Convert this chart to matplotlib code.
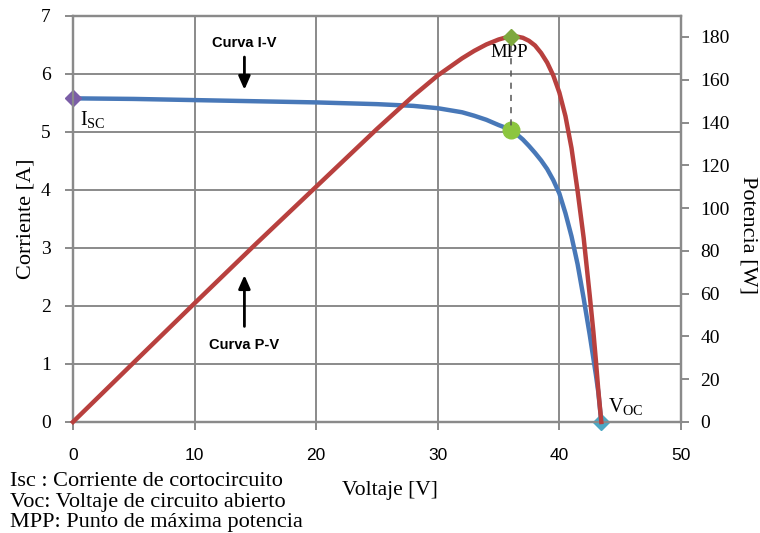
import matplotlib
matplotlib.use("Agg")
import matplotlib.pyplot as plt

# ---- data ----
voltage = [0, 5, 10, 15, 20, 25, 28, 30, 32, 33, 34, 35, 35.5, 36, 36.5, 37, 37.5, 38,
           38.5, 39, 39.5, 40, 40.5, 41, 41.5, 42, 42.5, 43, 43.2, 43.45]
current = [5.58, 5.57, 5.55, 5.53, 5.51, 5.48, 5.45, 5.41, 5.34, 5.28, 5.21, 5.12, 5.08,
           5.03, 4.96, 4.87, 4.76, 4.64, 4.51, 4.36, 4.17, 3.94, 3.60, 3.20, 2.72, 2.13,
           1.50, 0.82, 0.52, 0.0]
power_v = [0, 5, 10, 15, 20, 25, 28, 30, 32, 33, 34, 35, 35.5, 36, 36.5, 37, 37.5, 38,
           38.5, 39, 39.5, 40, 40.5, 41, 41.5, 42, 42.5, 42.8, 43, 43.2, 43.45]
power = [0, 27.8, 55.5, 83, 110, 137, 152.5, 162, 170, 173.5, 176.5, 178.8, 179.6,
         180, 180.2, 179.6, 178.2, 176, 172.5, 168, 162, 154, 143, 128, 108, 86,
         59, 42, 29, 15, 0]

isc = (0, 5.58)
mpp_v, mpp_i, mpp_p = 36, 5.03, 180
voc = 43.45

x_ticks = [0, 10, 20, 30, 40, 50]
y_left_ticks = [0, 1, 2, 3, 4, 5, 6, 7]
y_right_ticks = [0, 20, 40, 60, 80, 100, 120, 140, 160, 180]

SERIF = "Liberation Serif"
SANS = "Liberation Sans"
plt.rcParams["mathtext.fontset"] = "custom"
plt.rcParams["mathtext.rm"] = SERIF
plt.rcParams["mathtext.it"] = SERIF + ":italic"

GRID = "#8a8a8a"
BLUE = "#4878B8"
RED = "#B8403E"

fig = plt.figure(figsize=(7.6, 5.33), dpi=100)
ax = fig.add_axes([0.096, 0.2083, 0.80, 0.7617])
ax2 = ax.twinx()

ax.set_xlim(0, 50)
ax.set_ylim(0, 7)
ax2.set_ylim(0, 189.8)

ax.set_xticks(x_ticks)
ax.set_yticks(y_left_ticks)
ax2.set_yticks(y_right_ticks)
ax.grid(True, color=GRID, linewidth=1.4)
ax.set_axisbelow(True)

for a in (ax, ax2):
    for s in a.spines.values():
        s.set_color(GRID)
        s.set_linewidth(1.6)

ax.tick_params(axis="y", colors=GRID, length=6, width=1.4, labelcolor="black",
               labelsize=14, pad=10)
ax.tick_params(axis="x", colors=GRID, length=6, width=1.4, labelcolor="black",
               labelsize=12.5, pad=13)
ax2.tick_params(axis="y", colors=GRID, length=6, width=1.4, labelcolor="black",
                labelsize=14, pad=8)
for lab in ax.get_yticklabels() + ax2.get_yticklabels():
    lab.set_family(SERIF)
for lab in ax.get_xticklabels():
    lab.set_family(SANS)

# curves
ax.plot(voltage, current, color=BLUE, linewidth=3.2, zorder=3, clip_on=False,
        solid_joinstyle="round")
ax2.plot(power_v, power, color=RED, linewidth=3.2, zorder=3, clip_on=False,
         solid_joinstyle="round")

# dashed link MPP
ax2.plot([mpp_v, mpp_v], [mpp_p - 4, 136], color="#555555", linestyle=(0, (4, 4)),
         linewidth=1.1, zorder=2)

# markers
ax.plot([isc[0]], [isc[1]], marker="D", color="#7B5EA7", markersize=8, zorder=5,
        clip_on=False)
ax.plot([mpp_v], [mpp_i], marker="o", color="#8CC63F", markersize=12, zorder=5,
        clip_on=False)
ax2.plot([mpp_v], [mpp_p], marker="D", color="#7EA83E", markersize=8, zorder=5,
         clip_on=False)
ax.plot([voc], [0], marker="D", color="#4BA8C4", markersize=8, zorder=5, clip_on=False)

# point labels
ax.text(0.6, 5.22, r"I$_{\mathrm{SC}}$", fontsize=14.5, family=SERIF, va="center", ha="left")
ax.text(35.9, 6.37, "MPP", fontsize=13.5, family=SERIF, va="center", ha="center")
ax.text(44.0, 0.27, r"V$_{\mathrm{OC}}$", fontsize=14.5, family=SERIF, va="center", ha="left")

# curve annotations
ax.text(14.1, 6.53, "Curva I-V", fontsize=10.5, fontweight="bold", family=SANS,
        ha="center", va="center")
ax.annotate("", xy=(14.1, 5.68), xytext=(14.1, 6.34),
            arrowprops=dict(arrowstyle="-|>,head_length=0.8,head_width=0.35",
                            color="black", lw=2))
ax.text(14.1, 1.33, "Curva P-V", fontsize=10.5, fontweight="bold", family=SANS,
        ha="center", va="center")
ax.annotate("", xy=(14.1, 2.58), xytext=(14.1, 1.6),
            arrowprops=dict(arrowstyle="-|>,head_length=0.8,head_width=0.35",
                            color="black", lw=2))

# axis labels
fig.text(0.034, 0.59, "Corriente [A]", rotation=90, fontsize=16, family=SERIF,
         ha="center", va="center")
fig.text(0.984, 0.559, "Potencia [W]", rotation=270, fontsize=16, family=SERIF,
         ha="center", va="center")
fig.text(0.513, 0.079, "Voltaje [V]", fontsize=15.5, family=SERIF, ha="center", va="center")

# footnote
fig.text(0.013, 0.096, "Isc : Corriente de cortocircuito", fontsize=16, family=SERIF,
         ha="left", va="center")
fig.text(0.013, 0.058, "Voc: Voltaje de circuito abierto", fontsize=16, family=SERIF,
         ha="left", va="center")
fig.text(0.013, 0.020, "MPP: Punto de máxima potencia", fontsize=16, family=SERIF,
         ha="left", va="center")

fig.savefig("out.png", dpi=100)
